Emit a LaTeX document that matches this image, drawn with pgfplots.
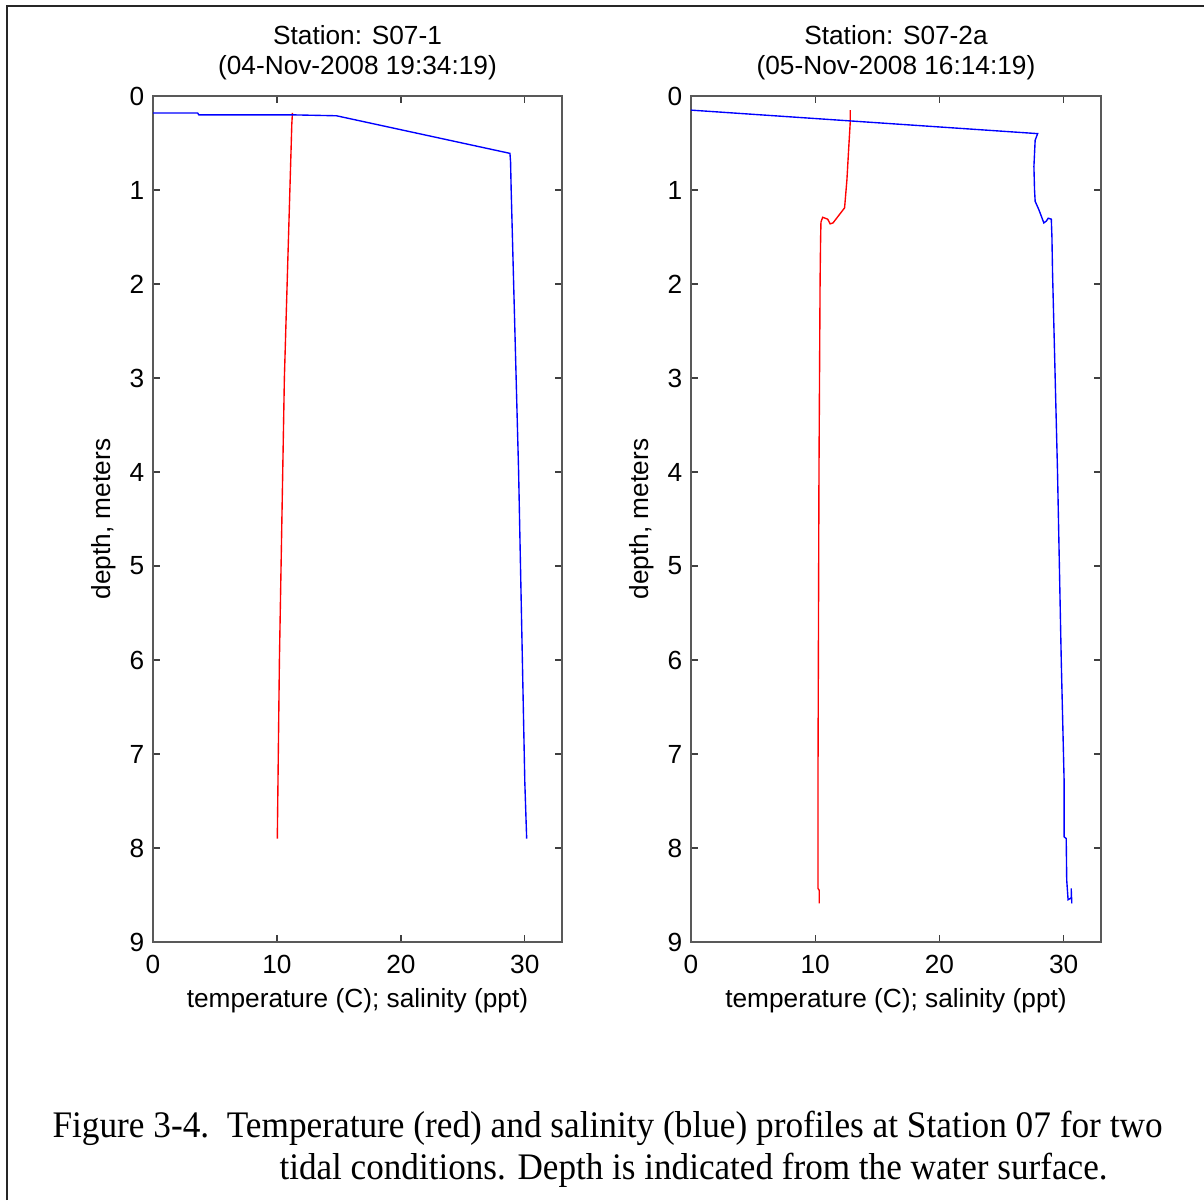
\documentclass[border=0pt]{standalone}
\usepackage{pgfplots}
\pgfplotsset{compat=1.18}
\usepackage{fontspec}
\setmainfont{Liberation Sans}
\newfontfamily\capfont{Liberation Serif}
\begin{document}
\begin{tikzpicture}
\path[use as bounding box] (0,0) rectangle (481.6pt,-480pt);
\draw[line width=0.9pt, black!85] (2.8pt,-480pt) -- (2.8pt,-2.4pt) -- (481.6pt,-2.4pt);
\pgfplotsset{every axis/.append style={
 scale only axis, height=338.4pt, anchor=north west,
 xmin=0,xmax=33,ymin=0,ymax=9,y dir=reverse,
 xtick={0,10,20,30}, ytick={0,1,2,3,4,5,6,7,8,9},
 tick align=inside, major tick length=2.8pt,
 font=\fontsize{10.5}{12}\selectfont,
 /pgf/number format/assume math mode=true,
 axis line style={black!65, line width=0.5pt},
 tick style={black!75, line width=0.5pt},
 xticklabel style={yshift=-1.8pt},
 xlabel={temperature (C); salinity (ppt)},
 xlabel style={yshift=1.0pt},
 ylabel={depth, meters},
 ylabel style={yshift=-1.5pt},
 title style={align=center, font=\fontsize{10.5}{12}\selectfont, yshift=-3.2pt},
}}
\begin{axis}[at={(61.2pt,-38.4pt)}, width=163.6pt,
 title={Station: S07-1\\(04-Nov-2008 19:34:19)}]
\addplot[red, line width=0.55pt] coordinates {(11.25,0.18) (11.2,0.3) (11.1,0.75) (10.6,3.0) (10.2,6.0) (10.03,7.9)};
\addplot[blue, line width=0.55pt] coordinates {(0,0.18) (3.6,0.18) (3.7,0.2) (11.1,0.2) (14.8,0.21) (28.8,0.61) (28.85,0.7) (28.9,1.0) (29.5,4.0) (30.0,7.3) (30.15,7.9)};
\end{axis}
\begin{axis}[at={(276.4pt,-38.4pt)}, width=164pt,
 title={Station: S07-2a\\(05-Nov-2008 16:14:19)}]
\addplot[red, line width=0.55pt] coordinates {(12.82,0.15) (12.82,0.27) (12.7,0.54) (12.55,0.89) (12.36,1.19) (11.43,1.35) (11.2,1.36) (11.0,1.31) (10.6,1.29) (10.46,1.34) (10.43,1.53) (10.39,1.96) (10.3,4.0) (10.22,7.28) (10.22,8.43) (10.32,8.45) (10.32,8.59)};
\addplot[blue, line width=0.55pt] coordinates {(0,0.15) (27.9,0.40) (27.7,0.47) (27.6,0.75) (27.65,1.0) (27.7,1.12) (28.0,1.21) (28.4,1.35) (28.6,1.33) (28.75,1.30) (29.0,1.31) (29.05,1.5) (29.1,1.88) (29.5,4.0) (29.8,6.0) (30.03,7.28) (30.03,7.88) (30.2,7.9) (30.24,8.34) (30.35,8.55) (30.6,8.53) (30.6,8.43) (30.65,8.59)};
\end{axis}
\node[anchor=base west, inner sep=0pt] at (20.8pt,-454.8pt) {\resizebox{444pt}{\height}{\capfont\fontsize{15}{18}\selectfont Figure 3-4.\ \ Temperature (red) and salinity (blue) profiles at Station 07 for two}};
\node[anchor=base west, inner sep=0pt] at (111.6pt,-471.6pt) {\resizebox{331.2pt}{\height}{\capfont\fontsize{15}{18}\selectfont tidal conditions. Depth is indicated from the water surface.}};
\end{tikzpicture}
\end{document}
